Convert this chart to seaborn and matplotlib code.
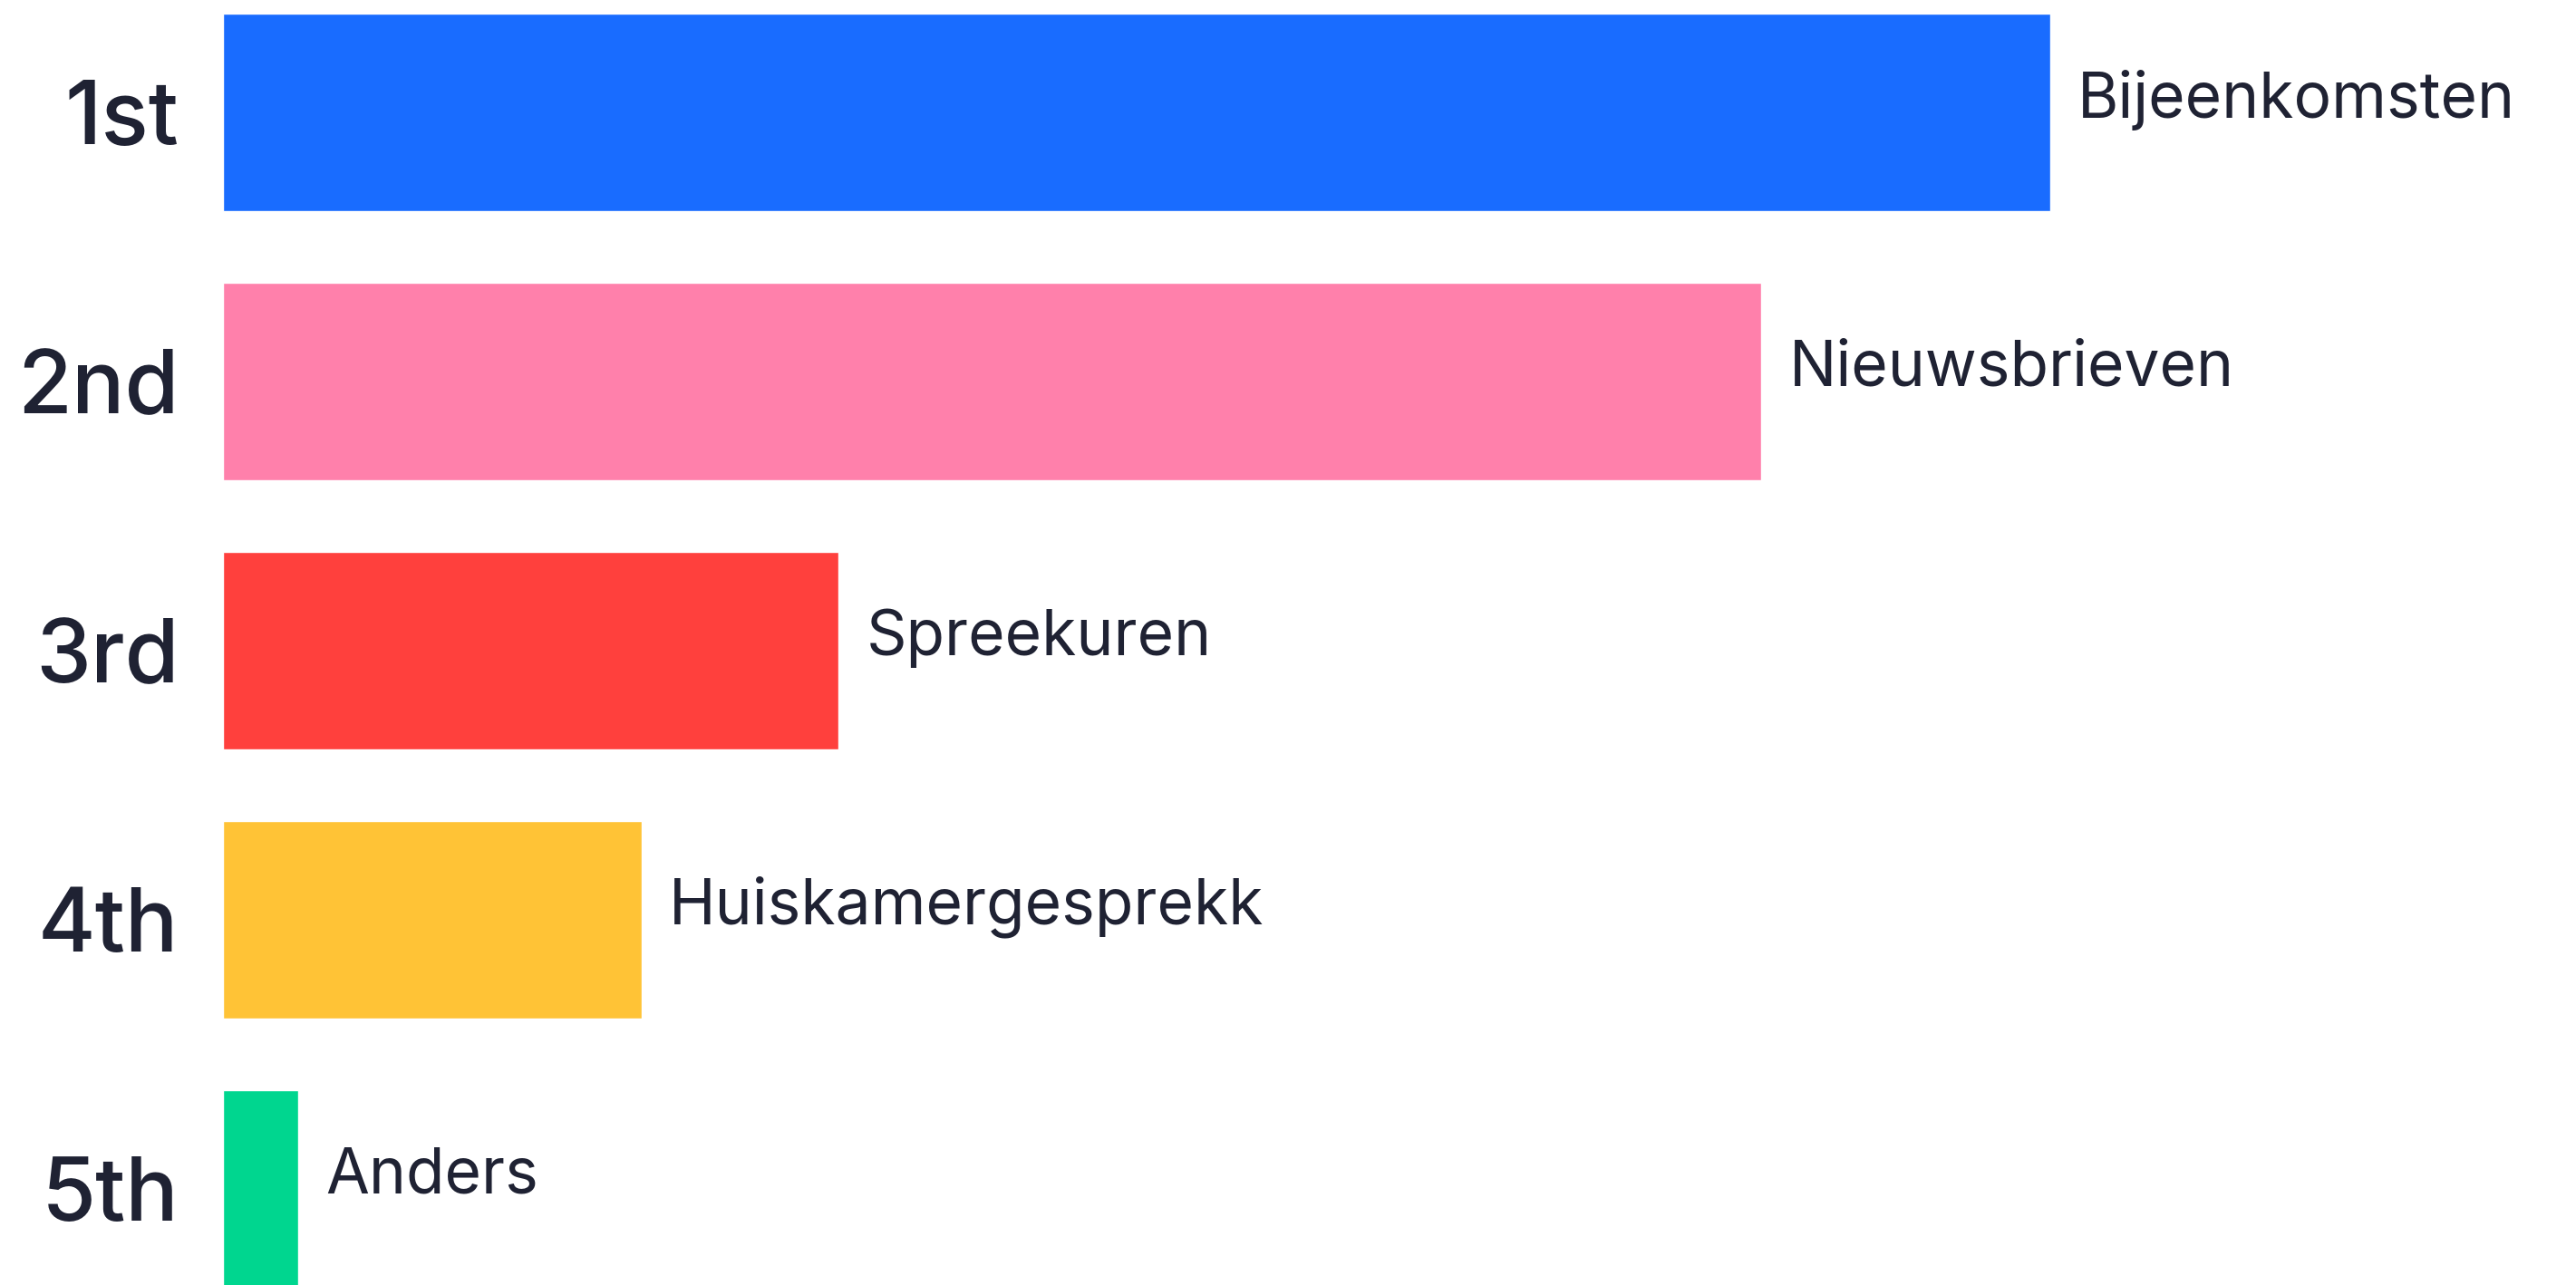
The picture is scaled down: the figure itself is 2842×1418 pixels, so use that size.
import matplotlib
matplotlib.use('Agg')
import matplotlib.pyplot as plt
import seaborn as sns

# ranking result
ranks = ['1st', '2nd', '3rd', '4th', '5th']
options = ['Bijeenkomsten', 'Nieuwsbrieven', 'Spreekuren', 'Huiskamergesprekk', 'Anders']
scores = [100, 84.2, 33.7, 22.9, 4.1]
colors = ['#196cff', '#ff80ab', '#ff403d', '#ffc336', '#00d68f']

sns.set_style('white')
plt.rcParams['font.family'] = ['Inter', 'DejaVu Sans']
text_color = '#1f2233'

fig = plt.figure(figsize=(28.42, 14.18), dpi=100)
ax = fig.add_axes([246 / 2842, 0, 1 - 246 / 2842, 1])

sns.barplot(x=scores, y=ranks, hue=ranks, palette=colors, legend=False,
            orient='h', width=0.732, saturation=1, ax=ax)

ax.set_xlim(0, 128.8)
ax.set_ylim(4.357, -0.4175)
sns.despine(ax=ax, left=True, bottom=True)
ax.set_xticks([])
ax.set_xlabel('')
ax.set_ylabel('')
ax.tick_params(axis='y', length=0, pad=35, labelsize=70, labelcolor=text_color)
for lab in ax.get_yticklabels():
    lab.set_fontweight('medium')

# option names next to the bars
for i, (v, name) in enumerate(zip(scores, options)):
    ax.annotate(name, (v, i), xytext=(22, 10), textcoords='offset points',
                va='center', ha='left', fontsize=50, fontweight='normal',
                color=text_color)

fig.savefig('out.png', dpi=100)
